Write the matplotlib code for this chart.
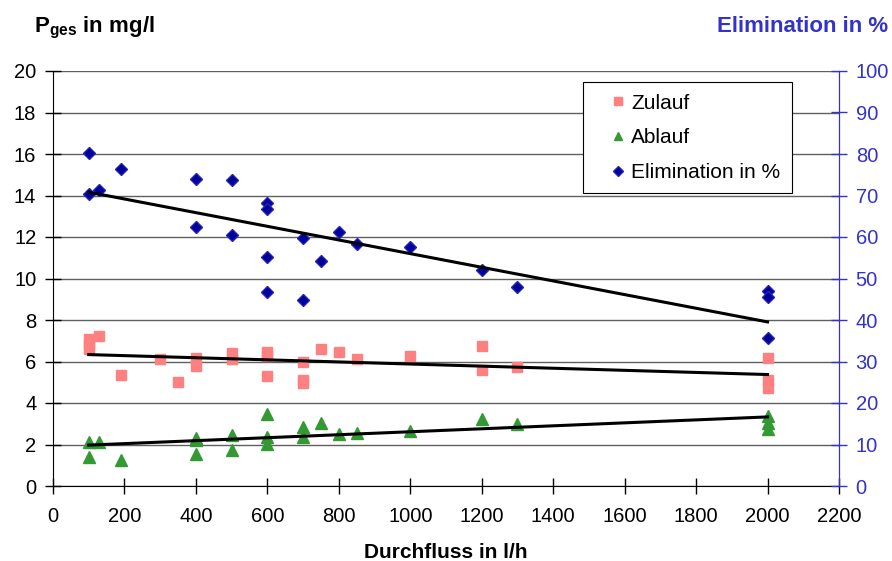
import numpy as np
import matplotlib.pyplot as plt

plt.rcParams['font.family'] = ['Liberation Sans', 'DejaVu Sans']

# Zulauf (inflow concentration) in mg/l
durchfluss_zu = [100, 100, 100, 130, 190, 300, 350, 400, 400, 500, 500,
                 600, 600, 600, 700, 700, 700, 750, 800, 850, 1000,
                 1200, 1200, 1300, 2000, 2000, 2000]
zulauf = [7.1, 6.85, 6.6, 7.25, 5.35, 6.13, 5.0, 6.15, 5.8, 6.42, 6.1,
          6.47, 6.25, 5.28, 5.96, 5.1, 4.95, 6.6, 6.45, 6.1, 6.28,
          6.75, 5.57, 5.72, 6.18, 5.1, 4.7]

# Ablauf (outflow concentration) in mg/l
durchfluss_ab = [100, 100, 130, 190, 400, 400, 400, 500, 500,
                 600, 600, 600, 700, 700, 750, 800, 850, 1000,
                 1200, 1300, 2000, 2000, 2000]
ablauf = [2.14, 1.42, 2.11, 1.26, 2.3, 2.2, 1.55, 2.45, 1.74,
          3.46, 2.38, 2.03, 2.86, 2.38, 3.03, 2.51, 2.54, 2.67,
          3.25, 3.0, 3.38, 3.03, 2.74]

# Elimination in %
durchfluss_el = [100, 100, 130, 190, 400, 400, 500, 500,
                 600, 600, 600, 600, 700, 700, 750, 800, 850, 1000,
                 1200, 1300, 2000, 2000, 2000]
elimination = [80.2, 70.3, 71.3, 76.4, 73.9, 62.5, 73.7, 60.4,
               68.1, 66.8, 55.1, 46.8, 59.8, 44.7, 54.2, 61.3, 58.4, 57.7,
               52.0, 48.0, 46.9, 45.6, 35.7]

blue = '#3333CC'

fig = plt.figure(figsize=(8.92, 5.61), dpi=100)
ax = fig.add_axes([53 / 892, 1 - 486 / 561, 786 / 892, 415 / 561])
ax2 = ax.twinx()

# trend lines (linear fit over data range)
def trend(axis, x, y):
    x = np.asarray(x, float)
    k, d = np.polyfit(x, y, 1)
    xs = np.array([x.min(), x.max()])
    axis.plot(xs, k * xs + d, color='black', lw=2.2, zorder=4)

trend(ax, durchfluss_zu, zulauf)
trend(ax, durchfluss_ab, ablauf)
trend(ax2, durchfluss_el, elimination)

h1, = ax.plot(durchfluss_zu, zulauf, 's', color='#FF8080', ms=7.5, ls='none', label='Zulauf', zorder=3)
h2, = ax.plot(durchfluss_ab, ablauf, '^', color='#339933', ms=8, ls='none', label='Ablauf', zorder=3)
h3, = ax2.plot(durchfluss_el, elimination, 'D', color='#000099', mec='#2222BB', ms=6.3, ls='none',
               label='Elimination in %', zorder=3)

ax.set_xlim(0, 2200)
ax.set_ylim(0, 20)
ax2.set_ylim(0, 100)
ax.set_xticks(np.arange(0, 2201, 200))
ax.set_yticks(np.arange(0, 21, 2))
ax2.set_yticks(np.arange(0, 101, 10))

ax.grid(axis='y', color='#606060', lw=1)
ax.set_axisbelow(True)

ax.spines['top'].set_visible(False)
ax2.spines['top'].set_visible(False)
ax2.spines['right'].set_color(blue)
ax2.spines['left'].set_visible(False)
ax2.spines['bottom'].set_visible(False)

ax.tick_params(axis='both', direction='inout', length=12, width=1, labelsize=14.5)
ax.tick_params(axis='x', pad=9)
ax.tick_params(axis='y', pad=6)
ax2.tick_params(axis='y', direction='inout', length=12, width=1, labelsize=14.5, colors=blue, pad=6)

ax.set_xlabel('Durchfluss in l/h', fontsize=15, fontweight='bold', labelpad=12)
fig.text(34 / 892, 1 - 28 / 561, r'P$_{\mathregular{ges}}$ in mg/l', fontsize=16, fontweight='bold',
         ha='left', va='center')
fig.text(888 / 892, 1 - 27 / 561, 'Elimination in %', fontsize=16, fontweight='bold', color=blue,
         ha='right', va='center')

leg = ax2.legend(handles=[h1, h2, h3], loc='upper right', bbox_to_anchor=(0.94, 0.973),
                 borderaxespad=0, fontsize=15, fancybox=False, framealpha=1,
                 edgecolor='black', handlelength=2.2, handletextpad=-0.45,
                 borderpad=0.55, labelspacing=0.75, markerscale=0.8)
leg.get_frame().set_linewidth(0.8)

fig.savefig('out.png', dpi=100)
